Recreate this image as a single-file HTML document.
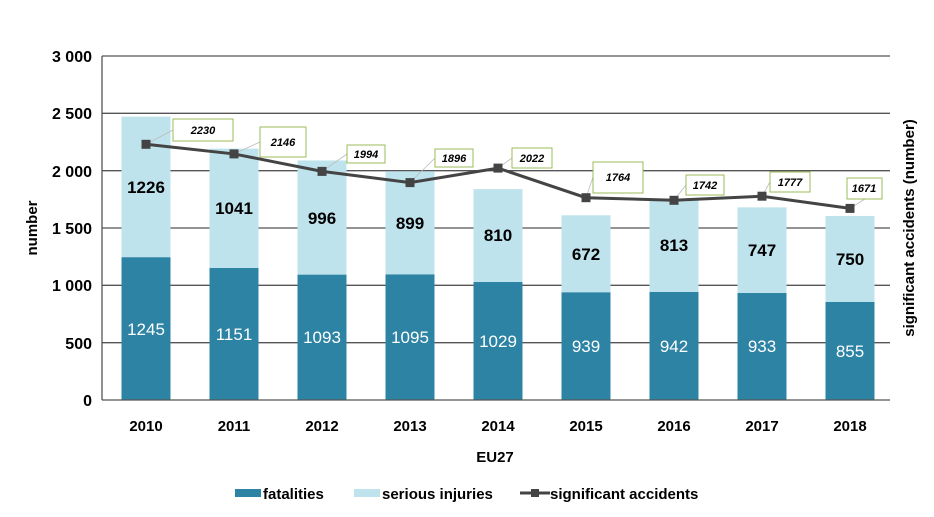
<!DOCTYPE html>
<html><head><meta charset="utf-8"><style>
body{margin:0;background:#fff}
svg{display:block;font-family:"Liberation Sans",sans-serif}
</style></head><body>
<svg width="934" height="517" viewBox="0 0 934 517">
<g stroke="#555" stroke-width="1.3">
<line x1="102" y1="56" x2="890" y2="56"/>
<line x1="102" y1="113.3" x2="890" y2="113.3"/>
<line x1="102" y1="170.7" x2="890" y2="170.7"/>
<line x1="102" y1="228" x2="890" y2="228"/>
<line x1="102" y1="285.3" x2="890" y2="285.3"/>
<line x1="102" y1="342.7" x2="890" y2="342.7"/>
<line x1="102" y1="56" x2="102" y2="400"/>
</g>
<g font-size="16" font-weight="bold" text-anchor="end" fill="#000">
<text x="92" y="62">3 000</text><text x="92" y="119">2 500</text><text x="92" y="177">2 000</text>
<text x="92" y="234">1 500</text><text x="92" y="291">1 000</text><text x="92" y="349">500</text><text x="92" y="406">0</text>
</g>
<text transform="translate(37,228) rotate(-90)" text-anchor="middle" font-size="15" font-weight="bold">number</text>
<text transform="translate(914,228) rotate(-90)" text-anchor="middle" font-size="15" font-weight="bold">significant accidents (number)</text>

<g fill="#bee3ec">
<rect x="121.5" y="116.66" width="49" height="140.58"/>
<rect x="209.5" y="148.65" width="49" height="119.37"/>
<rect x="297.5" y="160.46" width="49" height="114.21"/>
<rect x="385.5" y="171.35" width="49" height="103.09"/>
<rect x="473.5" y="189.13" width="49" height="92.88"/>
<rect x="561.5" y="215.27" width="49" height="77.06"/>
<rect x="649.5" y="198.76" width="49" height="93.22"/>
<rect x="737.5" y="207.36" width="49" height="85.66"/>
<rect x="825.5" y="215.96" width="49" height="86.0"/>
</g>
<g fill="#2d83a3">
<rect x="121.5" y="257.24" width="49" height="142.76"/>
<rect x="209.5" y="268.02" width="49" height="131.98"/>
<rect x="297.5" y="274.67" width="49" height="125.33"/>
<rect x="385.5" y="274.44" width="49" height="125.56"/>
<rect x="473.5" y="282.01" width="49" height="117.99"/>
<rect x="561.5" y="292.33" width="49" height="107.67"/>
<rect x="649.5" y="291.98" width="49" height="108.02"/>
<rect x="737.5" y="293.02" width="49" height="106.98"/>
<rect x="825.5" y="301.96" width="49" height="98.04"/>
</g>
<g font-size="17" fill="#fff" text-anchor="middle">
<text x="146" y="335">1245</text><text x="234" y="340">1151</text><text x="322" y="343">1093</text>
<text x="410" y="343">1095</text><text x="498" y="347">1029</text><text x="586" y="352">939</text>
<text x="674" y="352">942</text><text x="762" y="352">933</text><text x="850" y="357">855</text>
</g>
<g font-size="17" font-weight="bold" text-anchor="middle">
<text x="146" y="193">1226</text><text x="234" y="214">1041</text><text x="322" y="224">996</text>
<text x="410" y="229">899</text><text x="498" y="241">810</text><text x="586" y="260">672</text>
<text x="674" y="251">813</text><text x="762" y="256">747</text><text x="850" y="265">750</text>
</g>
<g font-size="15" font-weight="bold" text-anchor="middle">
<text x="146" y="431">2010</text><text x="234" y="431">2011</text><text x="322" y="431">2012</text>
<text x="410" y="431">2013</text><text x="498" y="431">2014</text><text x="586" y="431">2015</text>
<text x="674" y="431">2016</text><text x="762" y="431">2017</text><text x="850" y="431">2018</text>
</g>
<line x1="102" y1="400" x2="890" y2="400" stroke="#555" stroke-width="1.3"/>

<g stroke="#bbb" stroke-width="0.8">
<line x1="146" y1="144.3" x2="173" y2="130"/>
<line x1="234" y1="153.9" x2="260" y2="142"/>
<line x1="322" y1="171.4" x2="347" y2="154"/>
<line x1="410" y1="182.6" x2="435" y2="158"/>
<line x1="498" y1="168.1" x2="512" y2="158"/>
<line x1="586" y1="197.7" x2="593" y2="177"/>
<line x1="674" y1="200.3" x2="686" y2="185"/>
<line x1="762" y1="196.2" x2="770" y2="182"/>
<line x1="850" y1="208.4" x2="865" y2="199"/>
</g>
<polyline points="146,144.29 234,153.93 322,171.35 410,182.59 498,168.14 586,197.73 674,200.25 762,196.24 850,208.39" fill="none" stroke="#444" stroke-width="3"/>
<g fill="#444">
<rect x="141.5" y="139.8" width="9" height="9"/><rect x="229.5" y="149.4" width="9" height="9"/>
<rect x="317.5" y="166.9" width="9" height="9"/><rect x="405.5" y="178.1" width="9" height="9"/>
<rect x="493.5" y="163.6" width="9" height="9"/><rect x="581.5" y="193.2" width="9" height="9"/>
<rect x="669.5" y="195.8" width="9" height="9"/><rect x="757.5" y="191.7" width="9" height="9"/>
<rect x="845.5" y="203.9" width="9" height="9"/>
</g>
<g fill="#fff" stroke="#9bbb59" stroke-width="1">
<rect x="173" y="119" width="60" height="22"/><rect x="260" y="127" width="46" height="30"/>
<rect x="347" y="145" width="38" height="18"/><rect x="435" y="149" width="38" height="18"/>
<rect x="512" y="148" width="40" height="20"/><rect x="593" y="162" width="50" height="31"/>
<rect x="686" y="175" width="38" height="20"/><rect x="770" y="172" width="40" height="20"/>
<rect x="847" y="178" width="35" height="21"/>
</g>
<g font-size="11" font-weight="bold" font-style="italic" text-anchor="middle">
<text x="203" y="134">2230</text><text x="283" y="146">2146</text><text x="366" y="158">1994</text>
<text x="454" y="162">1896</text><text x="532" y="162">2022</text><text x="618" y="181">1764</text>
<text x="705" y="189">1742</text><text x="790" y="186">1777</text><text x="864" y="192">1671</text>
</g>

<text x="495" y="462" text-anchor="middle" font-size="15" font-weight="bold">EU27</text>
<rect x="235" y="489" width="26" height="8" fill="#2d83a3"/>
<text x="263" y="499" font-size="15" font-weight="bold">fatalities</text>
<rect x="354" y="489" width="26" height="8" fill="#bee3ec"/>
<text x="382" y="499" font-size="15" font-weight="bold">serious injuries</text>
<line x1="520" y1="493" x2="550" y2="493" stroke="#444" stroke-width="3"/>
<rect x="531" y="489" width="8" height="8" fill="#444"/>
<text x="550" y="499" font-size="15" font-weight="bold">significant accidents</text>
</svg>
</body></html>
